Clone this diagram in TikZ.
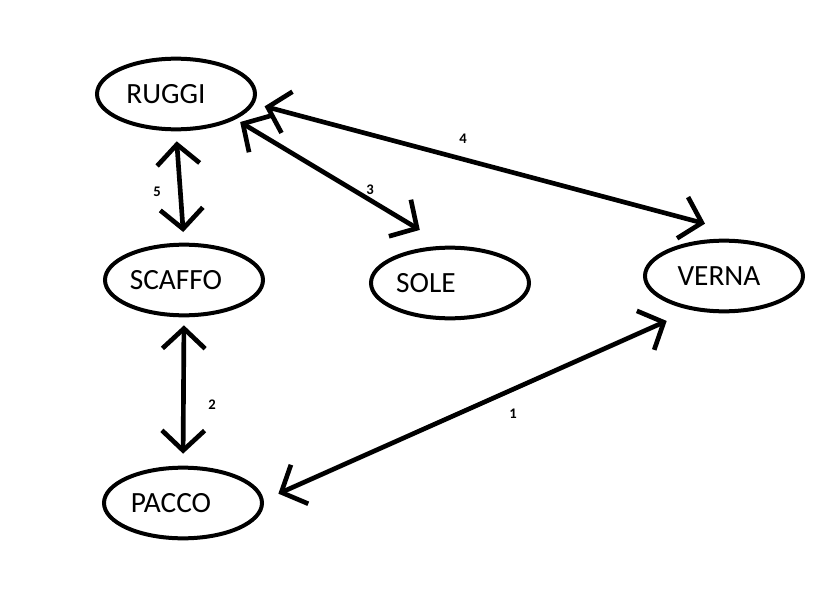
\documentclass[tikz,border=0pt]{standalone}
\usepackage{fontspec}
\setmainfont{Carlito}
\usetikzlibrary{arrows.meta,shapes.geometric}

\begin{document}
\begin{tikzpicture}[x=0.75pt,y=-0.75pt,
    place/.style={draw,ellipse,line width=3pt,minimum width=118.5pt,minimum height=53pt,inner sep=0pt,font=\fontsize{22}{26}\selectfont},
    link/.style={line width=3.5pt,{Straight Barb[length=15pt,width=32pt]}-{Straight Barb[length=15pt,width=32pt]}},
    num/.style={inner sep=0pt,font=\bfseries\fontsize{11}{13}\selectfont}]
    \useasboundingbox (0,0) rectangle (836,603);
    \node[place] (ruggi) at (176,94) {RUGGI\kern15pt};
    \node[place] (scaffo) at (184,280) {SCAFFO\kern12pt};
    \node[place] (sole) at (450,283) {SOLE\kern36pt};
    \node[place] (verna) at (724,276) {VERNA\kern7.5pt};
    \node[place] (pacco) at (183,503) {PACCO\kern18pt};
    \draw[link,shorten <=7.5pt,shorten >=8pt] (ruggi.south) -- (scaffo.north);
    \draw[link,shorten <=6pt,shorten >=9pt] (scaffo.south) -- (pacco.north);
    \draw[link,shorten <=4pt,shorten >=23pt] (ruggi.-23) -- (sole.96);
    \draw[link,shorten <=8pt] (ruggi.-7) -- ([shift={(-19,-15)}]verna.north);
    \draw[link,shorten <=12pt,shorten >=20pt] (pacco.2) -- (verna.226);
    \node[num] (n5) at (157,192) {5};
    \node[num] (n2) at (212,405) {2};
    \node[num] (n3) at (370,190) {3};
    \node[num] (n4) at (463,139) {4};
    \node[num] (n1) at (513,414) {1};
\end{tikzpicture}
\end{document}
